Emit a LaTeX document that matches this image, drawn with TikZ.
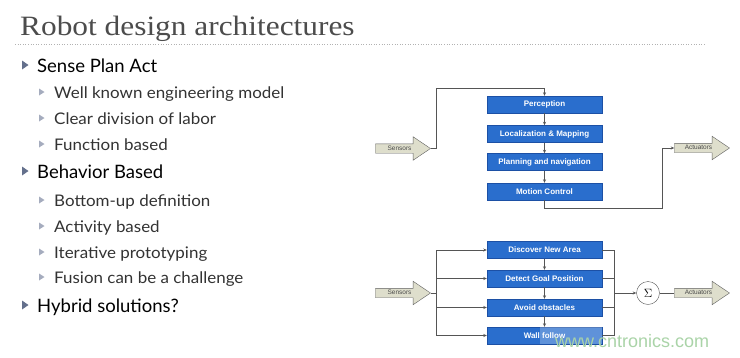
\documentclass[tikz,border=0pt]{standalone}
\usepackage{fontspec}
\setmainfont{Liberation Serif}
\newfontfamily\titre[FakeStretch=1.12]{Liberation Serif}
\newfontfamily\gill{Lato}
\newfontfamily\gillb[FakeStretch=1.06]{Lato}
\newfontfamily\arial{Liberation Sans}
\usetikzlibrary{positioning,shapes.arrows,arrows.meta}
\definecolor{bleubloc}{RGB}{42,110,205}
\definecolor{bordbloc}{RGB}{28,80,165}
\definecolor{beige}{RGB}{222,222,204}
\definecolor{trait}{RGB}{85,85,85}
\definecolor{pucefonce}{RGB}{100,112,140}
\definecolor{puceclair}{RGB}{165,172,190}
\definecolor{filigrane}{RGB}{170,212,168}
\tikzset{
  bloc/.style={draw=bordbloc,fill=bleubloc,minimum width=115pt,minimum height=17pt,
    inner sep=0pt,text=white,font=\arial\bfseries\fontsize{8}{9}\selectfont},
  fleche/.style={single arrow,draw=gray!75!black,fill=beige,minimum height=55pt,
    minimum width=23pt,single arrow head extend=7pt,single arrow tip angle=68,
    inner xsep=3pt,inner ysep=1.5pt,text height=4.5pt,text depth=1.5pt,
    text=gray!60!black,font=\arial\fontsize{6.5}{7}\selectfont},
  lien/.style={draw=trait,line width=0.6pt},
  vers/.style={lien,-{Stealth[length=3.5pt,width=3pt]}}
}

\begin{document}
\begin{tikzpicture}[x=1pt,y=-1pt]
        % Fond de la diapositive
        \fill[white] (0,0) rectangle (740,357);
        \useasboundingbox (0,0) rectangle (740,357);

        % Titre et ligne pointillee
        \node[anchor=base west,inner sep=0pt,text=black!70,font=\titre\fontsize{28}{30}\selectfont] (titre) at (20,35) {Robot design architectures};
        \draw[black!30,dotted,line width=0.6pt] (15,44) -- (705,44);

        % Liste a puces : ordonnee / texte / niveau
        \foreach \y/\texte/\niv in {72/Sense Plan Act/1, 98/Well known engineering model/2,
            124/Clear division of labor/2, 150/Function based/2, 178/Behavior Based/1,
            206/Bottom-up definition/2, 232/Activity based/2, 258/Iterative prototyping/2,
            283/Fusion can be a challenge/2, 312/Hybrid solutions?/1}{
          \ifnum\niv=1
            \fill[pucefonce] (22,\y-11.5) -- (28.5,\y-7) -- (22,\y-2.5) -- cycle;
            \node[anchor=base west,inner sep=0pt,text=black,font=\gill\fontsize{18.5}{20}\selectfont] (item-\y) at (37,\y) {\texte};
          \else
            \fill[puceclair] (39,\y-9.5) -- (44.5,\y-6) -- (39,\y-2.5) -- cycle;
            \node[anchor=base west,inner sep=0pt,text=black!80,font=\gillb\fontsize{16}{18}\selectfont] (item-\y) at (54,\y) {\texte};
          \fi
        }

        % Architecture Sense Plan Act
        \node[bloc] (percep) at (544.5,104.5) {Perception};
        \node[bloc] (local) at (544.5,134) {Localization \& Mapping};
        \node[bloc] (planif) at (544.5,162) {Planning and navigation};
        \node[bloc] (moteur) at (544.5,191.5) {Motion Control};
        \node[fleche] (capt1) at (399.5,148.5) {Sensors\hspace{12pt}};
        \node[fleche] (act1) at (698.5,148) {Actuators\hspace{10pt}};
        \coordinate (haut) at (436,88);
        \coordinate (bas) at (662,208);
        \draw[vers] (capt1.tip) -| (haut) -| (percep.north);
        \draw[vers] (percep) -- (local);
        \draw[vers] (local) -- (planif);
        \draw[vers] (planif) -- (moteur);
        \draw[vers] (moteur.south) |- (bas) |- (act1.tail);

        % Architecture comportementale
        \node[bloc] (decouv) at (544.5,250) {Discover New Area};
        \node[bloc] (but) at (544.5,278.5) {Detect Goal Position};
        \node[bloc] (obst) at (544.5,307.5) {Avoid obstacles};
        \node[bloc] (mur) at (544.5,335.5) {Wall follow};
        \node[fleche] (capt2) at (399.5,293) {Sensors\hspace{12pt}};
        \node[fleche] (act2) at (698.5,293) {Actuators\hspace{10pt}};
        \node[draw=trait,fill=white,circle,minimum size=23pt,inner sep=0pt,font=\fontsize{12}{12}\selectfont] (somme) at (648,293) {$\Sigma$};
        \coordinate (gauche) at (436,293);
        \coordinate (droite) at (614,293);
        \draw[lien] (capt2.tip) -- (gauche);
        \draw[lien] (gauche |- decouv.west) -- (gauche |- mur.west);
        \draw[lien] (droite |- decouv.east) -- (droite |- mur.east);
        \foreach \b in {decouv,but,obst,mur}{
          \draw[vers] (gauche |- \b.west) -- (\b.west);
          \draw[lien] (\b.east) -- (droite |- \b.east);
        }
        \draw[vers] (decouv) -- (but);
        \draw[vers] (but) -- (obst);
        \draw[vers] (obst) -- (mur);
        \draw[vers] (droite) -- (somme);
        \draw[lien] (somme) -- (act2.tail);

        % Filigrane
        \fill[white,opacity=0.25] (540,327) rectangle (602,344);
        \node[anchor=base west,inner sep=0pt,text=filigrane,font=\arial\fontsize{18}{18}\selectfont] (filig) at (555,347) {www.cntronics.com};
\end{tikzpicture}
\end{document}
